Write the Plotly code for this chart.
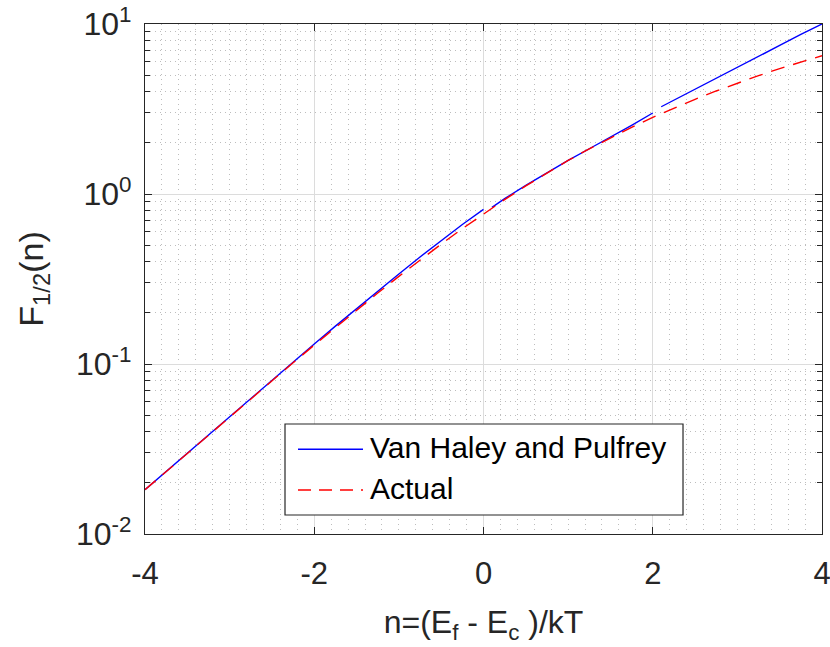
import plotly.graph_objects as go

# Actual Fermi-Dirac integral F_1/2
eta_actual = [-4, -3.75, -3.5, -3.25, -3, -2.75, -2.5, -2.25, -2, -1.75, -1.5, -1.25,
              -1, -0.75, -0.5, -0.25, 0, 0.25, 0.5, 0.75, 1, 1.25, 1.5, 1.75,
              2, 2.25, 2.5, 2.75, 3, 3.25, 3.5, 3.75, 4]
f_actual = [0.01821, 0.02332, 0.02988, 0.03825, 0.04893, 0.06253, 0.07981, 0.10168,
            0.12929, 0.16401, 0.20739, 0.26131, 0.32779, 0.40908, 0.50753, 0.6252,
            0.76515, 0.9273, 1.1153, 1.3308, 1.5756, 1.8444, 2.1414, 2.4685,
            2.8237, 3.203, 3.607, 4.037, 4.488, 4.968, 5.467, 5.983, 6.511]

# Van Haley and Pulfrey approximation, three pieces (blue solid)
eta_vhp1 = [-4, -3.75, -3.5, -3.25, -3, -2.75, -2.5, -2.25, -2, -1.75, -1.5, -1.25,
            -1, -0.75, -0.5, -0.25, 0]
f_vhp1 = [0.01821, 0.02334, 0.02995, 0.03838, 0.04916, 0.06296, 0.08054, 0.10285,
          0.1311, 0.16706, 0.21222, 0.26863, 0.3386, 0.4263, 0.5329, 0.6621, 0.812]
eta_vhp2 = [0.1, 0.25, 0.5, 0.75, 1.0, 1.25, 1.5, 1.75, 2.0]
f_vhp2 = [0.835, 0.940, 1.125, 1.337, 1.5756, 1.846, 2.156, 2.537, 2.996]
eta_vhp3 = [2.1, 2.25, 2.5, 2.75, 3.0, 3.25, 3.5, 3.75, 4.0]
f_vhp3 = [3.26, 3.56, 4.13, 4.79, 5.56, 6.46, 7.48, 8.69, 10.0]

series_names = ["Van Haley and Pulfrey", "Actual"]
x_ticks = [-4, -2, 0, 2, 4]
y_ticks = [0.01, 0.1, 1, 10]
y_ticktext = ["10<sup>-2</sup>", "10<sup>-1</sup>", "10<sup>0</sup>", "10<sup>1</sup>"]

blue_x = eta_vhp1 + [None] + eta_vhp2 + [None] + eta_vhp3
blue_y = f_vhp1 + [None] + f_vhp2 + [None] + f_vhp3

AX = "#262626"
FONT = "Liberation Sans, Arial, Helvetica, sans-serif"
BLUE = "#0000ff"
RED = "#ff0000"
RED_DASH = "14px,9px"

fig = go.Figure()
fig.add_trace(go.Scatter(x=blue_x, y=blue_y, mode="lines", name=series_names[0],
                         line=dict(color=BLUE, width=1.4), connectgaps=False,
                         showlegend=False))
fig.add_trace(go.Scatter(x=eta_actual, y=f_actual, mode="lines", name=series_names[1],
                         line=dict(color=RED, width=1.4, dash=RED_DASH),
                         showlegend=False))

# Legend box drawn in paper coordinates (MATLAB-style legend)
lx0, lx1, ly0, ly1 = 0.2068, 0.7947, 0.0373, 0.2157
shapes = [
    dict(type="rect", xref="paper", yref="paper", x0=lx0, x1=lx1, y0=ly0, y1=ly1,
         line=dict(color=AX, width=1.2), fillcolor="white", layer="above"),
    dict(type="line", xref="paper", yref="paper", x0=0.226, x1=0.322, y0=0.1661, y1=0.1661,
         line=dict(color=BLUE, width=1.6), layer="above"),
    dict(type="line", xref="paper", yref="paper", x0=0.226, x1=0.322, y0=0.0863, y1=0.0863,
         line=dict(color=RED, width=1.6, dash="13px,8px"), layer="above"),
]
annotations = [
    dict(xref="paper", yref="paper", x=0.330, y=0.1700, text=series_names[0],
         showarrow=False, xanchor="left", yanchor="middle",
         font=dict(size=30, color="black", family=FONT)),
    dict(xref="paper", yref="paper", x=0.330, y=0.0900, text=series_names[1],
         showarrow=False, xanchor="left", yanchor="middle",
         font=dict(size=30, color="black", family=FONT)),
]

fig.update_layout(
    template="none",
    width=830, height=647,
    margin=dict(l=145, r=8, t=24, b=113),
    paper_bgcolor="white", plot_bgcolor="white",
    font=dict(family=FONT, size=30, color=AX),
    showlegend=False,
    shapes=shapes,
    annotations=annotations,
    xaxis=dict(
        range=[-4, 4], tickvals=x_ticks, ticktext=[str(v) for v in x_ticks],
        automargin=False, ticklabeloverflow="allow",
        showline=True, linecolor=AX, linewidth=1.2, mirror="ticks",
        ticks="inside", ticklen=7, tickcolor=AX, tickwidth=1.2,
        showgrid=True, gridcolor="#dcdcdc", gridwidth=1, zeroline=False,
        minor=dict(dtick=0.2, showgrid=True, gridcolor="#bdbdbd", griddash="1px,4px",
                   gridwidth=1, ticks=""),
        title=dict(text="n=(E<sub>f</sub> - E<sub>c</sub> )/kT", font=dict(size=32), standoff=20),
        tickfont=dict(size=31), ticklabelstandoff=12,
    ),
    yaxis=dict(
        type="log", range=[-2, 1], tickvals=y_ticks, ticktext=y_ticktext,
        automargin=False, ticklabeloverflow="allow",
        showline=True, linecolor=AX, linewidth=1.2, mirror="ticks",
        ticks="inside", ticklen=7, tickcolor=AX, tickwidth=1.2,
        showgrid=True, gridcolor="#dcdcdc", gridwidth=1, zeroline=False,
        minor=dict(dtick="D1", showgrid=True, gridcolor="#bdbdbd", griddash="1px,4px",
                   gridwidth=1, ticks="inside", ticklen=5, tickcolor=AX),
        title=dict(text="F<sub>1/2</sub>(n)", font=dict(size=34), standoff=22),
        tickfont=dict(size=32), ticklabelstandoff=6,
    ),
)

fig.write_html("out.html")
